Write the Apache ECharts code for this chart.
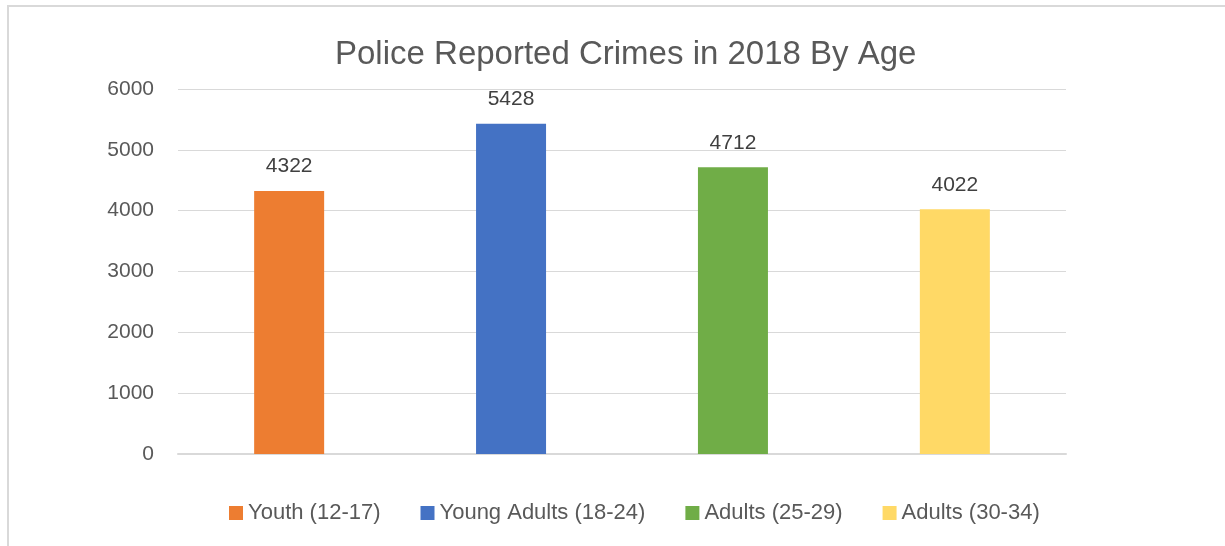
<!DOCTYPE html>
<html>
<head>
<meta charset="utf-8">
<script src="https://cdn.jsdelivr.net/npm/echarts@6/dist/echarts.min.js"></script>
<style>
html,body{margin:0;padding:0;background:#fff;}
#chart{width:1225px;height:546px;}
</style>
</head>
<body>
<div id="chart"></div>
<script>
const categories = [''];
const seriesNames = ['Youth (12-17)', 'Young Adults (18-24)', 'Adults (25-29)', 'Adults (30-34)'];
const seriesValues = [4322, 5428, 4712, 4022];
const seriesColors = ['#ED7D31', '#4472C4', '#70AD47', '#FFD966'];
const yTicks = [0, 1000, 2000, 3000, 4000, 5000, 6000];

const chart = echarts.init(document.getElementById('chart'));
const fontFamily = 'Liberation Sans';
const series = seriesNames.map((name, i) => ({
  name: name,
  type: 'bar',
  data: [seriesValues[i]],
  barWidth: 70,
  barGap: '217%',
  itemStyle: { color: seriesColors[i] },
  label: {
    show: true,
    position: 'top',
    distance: 14,
    color: '#404040',
    fontFamily: fontFamily,
    fontSize: 21
  }
}));

chart.setOption({
  animation: false,
  backgroundColor: '#fff',
  graphic: [{
    type: 'rect',
    shape: { x: 8, y: 6, width: 1300, height: 700 },
    style: { fill: 'none', stroke: '#d9d9d9', lineWidth: 2 },
    silent: true,
    z: -10
  }],
  title: {
    text: 'Police Reported Crimes in 2018 By Age',
    left: 330,
    top: 33,
    textStyle: { color: '#595959', fontFamily: fontFamily, fontSize: 33, fontWeight: 'normal' }
  },
  grid: { left: 178, right: 159, top: 89, bottom: 92 },
  legend: {
    bottom: 17,
    left: 224,
    itemWidth: 14,
    itemHeight: 14,
    itemGap: 40,
    icon: 'rect',
    textStyle: { color: '#595959', fontFamily: fontFamily, fontSize: 22 },
    data: seriesNames
  },
  xAxis: {
    type: 'category',
    data: categories,
    axisLine: { show: true, lineStyle: { color: '#d9d9d9', width: 2 } },
    axisTick: { show: false },
    axisLabel: { show: false }
  },
  yAxis: {
    type: 'value',
    min: yTicks[0],
    max: yTicks[yTicks.length - 1],
    interval: 1000,
    axisLine: { show: false },
    axisTick: { show: false },
    axisLabel: { color: '#595959', fontFamily: fontFamily, fontSize: 21, margin: 24, formatter: v => String(v) },
    splitLine: { lineStyle: { color: '#d9d9d9', width: 1 } }
  },
  series: series
});
</script>
</body>
</html>
